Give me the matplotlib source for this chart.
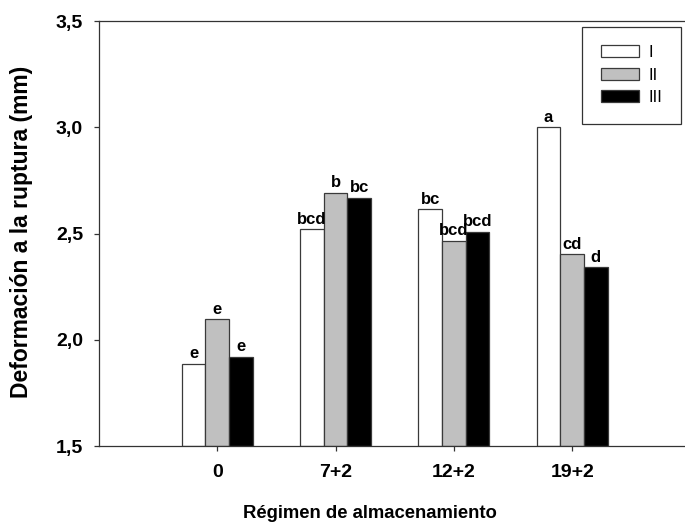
import matplotlib
matplotlib.use("Agg")
import matplotlib.pyplot as plt
import numpy as np
from matplotlib.patches import Patch

plt.rcParams["font.family"] = ["Liberation Sans", "DejaVu Sans"]
plt.rcParams["font.weight"] = "bold"

regimes = ["0", "7+2", "12+2", "19+2"]
series_names = ["I", "II", "III"]
values_I = [1.886, 2.520, 2.614, 3.000]
values_II = [2.096, 2.692, 2.465, 2.402]
values_III = [1.919, 2.667, 2.509, 2.342]
letters_I = ["e", "bcd", "bc", "a"]
letters_II = ["e", "b", "bcd", "cd"]
letters_III = ["e", "bc", "bcd", "d"]
yticks = [1.5, 2.0, 2.5, 3.0, 3.5]

colors = ["white", "#c0c0c0", "black"]
edge = "#3a3a3a"

fig = plt.figure(figsize=(6.85, 5.28), dpi=100)
ax = fig.add_axes([0.1445, 0.1553, 0.8635, 0.8049])

x = np.arange(len(regimes))
width = 0.2
all_vals = [values_I, values_II, values_III]
all_letters = [letters_I, letters_II, letters_III]
for i, (vals, labs) in enumerate(zip(all_vals, all_letters)):
    pos = x + (i - 1) * width
    ax.bar(pos, np.array(vals) - 1.5, width, bottom=1.5, color=colors[i],
           edgecolor=edge, linewidth=0.9)
    for px, v, t in zip(pos, vals, labs):
        ax.text(px, v + 0.012, t, ha="center", va="bottom",
                fontsize=12, fontweight="bold")

ax.set_xlim(-1, 4)
ax.set_ylim(1.5, 3.5)
ax.set_xticks(x)
ax.set_xticklabels(regimes)
ax.set_yticks(yticks)
ax.set_yticklabels([f"{t:.1f}".replace(".", ",") for t in yticks])
ax.tick_params(axis="both", direction="out", length=3.6, width=0.9,
               labelsize=14, color="#333333")
ax.tick_params(axis="x", pad=9.6)
ax.tick_params(axis="y", pad=7.9)
for lab in ax.get_xticklabels() + ax.get_yticklabels():
    lab.set_fontweight("bold")
for s in ax.spines.values():
    s.set_linewidth(0.9)
    s.set_color("#333333")

ax.set_xlabel("Régimen de almacenamiento", fontsize=13.3, fontweight="bold")
ax.set_ylabel("Deformación a la ruptura (mm)", fontsize=16.5,
              fontweight="bold")
ax.xaxis.set_label_coords(0.458, -0.14)
ax.yaxis.set_label_coords(-0.1116, 0.505)

handles = [Patch(facecolor=c, edgecolor=edge, linewidth=0.9) for c in colors]
leg = fig.legend(handles, series_names, loc="upper right",
                 bbox_to_anchor=(0.994, 0.949), frameon=True, fancybox=False,
                 edgecolor="black", fontsize=12, handlelength=2.28,
                 handleheight=0.72, labelspacing=0.45, borderpad=1.1,
                 handletextpad=0.6, borderaxespad=0)
leg.get_frame().set_linewidth(0.9)
for t in leg.get_texts():
    t.set_fontweight("normal")

fig.savefig("out.png", dpi=100)
